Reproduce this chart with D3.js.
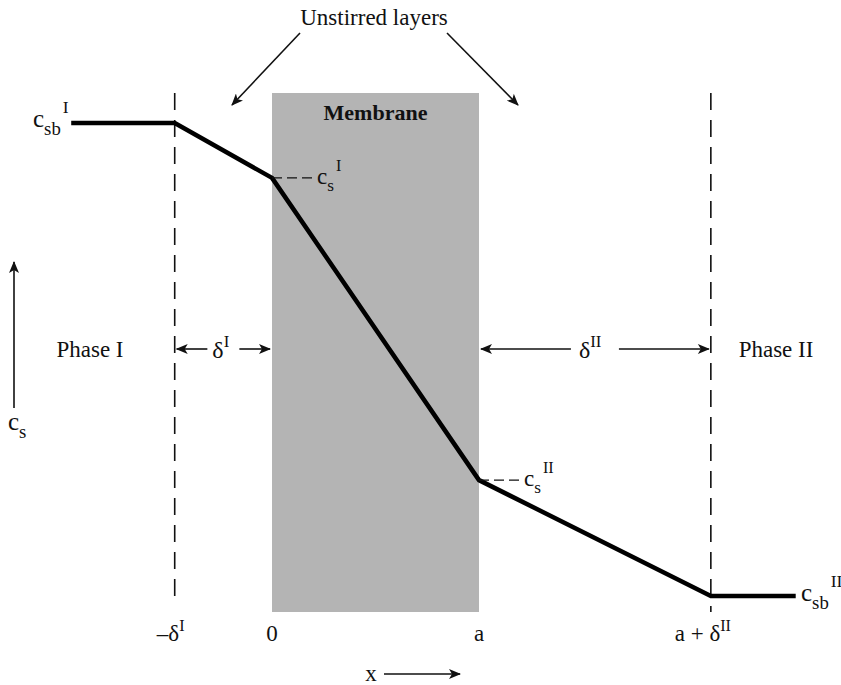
<!DOCTYPE html>
<html>
<head>
<meta charset="utf-8">
<script src="https://cdn.jsdelivr.net/npm/d3@7"></script>
<style>
  body { margin: 0; background: #fff; }
  text { font-family: "Liberation Serif", "Times New Roman", serif; fill: #111; }
</style>
</head>
<body>
<div id="chart"></div>
<script>
// positions along x, in units of membrane thickness a (0 = left face, 1 = right face)
const profileX = [-0.97, -0.47, 0, 1, 2.12, 2.53];
// solute concentration, scaled so c_sb^II = 0 and c_sb^I = 1
const profileC = [1, 1, 0.884, 0.245, 0, 0];

const boundaryX = [-0.47, 2.12];          // outer edges of the unstirred layers
const membraneX = [0, 1];
const tickX = [-0.47, 0, 1, 2.12];
const tickLabels = [["–δ", "I"], ["0", ""], ["a", ""], ["a + δ", "II"]];

const width = 841, height = 685;
const svg = d3.select("#chart").append("svg")
  .attr("width", width).attr("height", height);

const x = d3.scaleLinear().domain([0, 1]).range([272, 479]);
const y = d3.scaleLinear().domain([0, 1]).range([596, 123]);

const boxTop = 93, boxBottom = 612;

// arrow marker
const defs = svg.append("defs");
defs.append("marker")
  .attr("id", "arr")
  .attr("viewBox", "0 0 12 10")
  .attr("refX", 11).attr("refY", 5)
  .attr("markerWidth", 13).attr("markerHeight", 10)
  .attr("markerUnits", "userSpaceOnUse")
  .attr("orient", "auto-start-reverse")
  .append("path")
  .attr("d", "M0,0 L12,5 L0,10 L3,5 Z")
  .attr("fill", "#111");

// membrane
svg.append("rect")
  .attr("x", x(membraneX[0])).attr("y", boxTop)
  .attr("width", x(membraneX[1]) - x(membraneX[0]))
  .attr("height", boxBottom - boxTop)
  .attr("fill", "#b4b4b4");

svg.append("text")
  .attr("x", x(0.5)).attr("y", 120)
  .attr("text-anchor", "middle")
  .attr("font-size", 22).attr("font-weight", "bold")
  .text("Membrane");

// dashed boundaries of unstirred layers
svg.selectAll(".bound")
  .data(boundaryX)
  .enter().append("line")
  .attr("class", "bound")
  .attr("x1", d => x(d)).attr("x2", d => x(d))
  .attr("y1", boxTop).attr("y2", (d, i) => i === 0 ? 600 : 612)
  .attr("stroke", "#111").attr("stroke-width", 1.6)
  .attr("stroke-dasharray", "17,10");

// concentration profile
const line = d3.line().x(d => x(d[0])).y(d => y(d[1]));
svg.append("path")
  .datum(d3.zip(profileX, profileC))
  .attr("d", line)
  .attr("fill", "none")
  .attr("stroke", "#000")
  .attr("stroke-width", 4.5)
  .attr("stroke-linejoin", "round");

// helper for label with sub and sup
function label(px, py, base, sub, sup, size, anchor) {
  const t = svg.append("text")
    .attr("x", px).attr("y", py)
    .attr("font-size", size)
    .attr("text-anchor", anchor || "start");
  t.append("tspan").text(base);
  if (sub) t.append("tspan").attr("font-size", size * 0.75).attr("dy", size * 0.3).text(sub);
  if (sup) {
    t.append("tspan").attr("font-size", size * 0.7)
      .attr("dx", sub ? 2 : 0)
      .attr("dy", sub ? -size * 0.85 : -size * 0.45).text(sup);
  }
  return t;
}

// c_sb labels
label(33, 127, "c", "sb", "I", 25);
label(801, 601, "c", "sb", "II", 25);

// interface concentrations with dashed leaders
const faces = [[0, profileC[2], "I"], [1, profileC[3], "II"]];
faces.forEach(f => {
  svg.append("line")
    .attr("x1", x(f[0])).attr("x2", x(f[0]) + 44)
    .attr("y1", y(f[1])).attr("y2", y(f[1]))
    .attr("stroke", "#111").attr("stroke-width", 1.4)
    .attr("stroke-dasharray", "10,5");
  label(x(f[0]) + 45, y(f[1]) + 6, "c", "s", f[2], 23);
});

// Unstirred layers
svg.append("text")
  .attr("x", 374).attr("y", 25)
  .attr("text-anchor", "middle").attr("font-size", 23)
  .text("Unstirred layers");
svg.append("line")
  .attr("x1", 300).attr("y1", 33).attr("x2", 232).attr("y2", 105)
  .attr("stroke", "#111").attr("stroke-width", 1.6).attr("marker-end", "url(#arr)");
svg.append("line")
  .attr("x1", 447).attr("y1", 33).attr("x2", 518).attr("y2", 105)
  .attr("stroke", "#111").attr("stroke-width", 1.6).attr("marker-end", "url(#arr)");

// phase labels
svg.append("text").attr("x", 90).attr("y", 357)
  .attr("text-anchor", "middle").attr("font-size", 23).text("Phase I");
svg.append("text").attr("x", 776).attr("y", 357)
  .attr("text-anchor", "middle").attr("font-size", 23).text("Phase II");

// thickness arrows
const spans = [[boundaryX[0], 0, "I"], [1, boundaryX[1], "II"]];
spans.forEach(s => {
  const x0 = x(s[0]) + 2, x1 = x(s[1]) - 2, xm = (x0 + x1) / 2;
  const gap = s[2] === "I" ? 16 : 24;
  svg.append("line")
    .attr("x1", xm - gap).attr("x2", x0).attr("y1", 349).attr("y2", 349)
    .attr("stroke", "#111").attr("stroke-width", 1.6).attr("marker-end", "url(#arr)");
  svg.append("line")
    .attr("x1", xm + gap).attr("x2", x1).attr("y1", 349).attr("y2", 349)
    .attr("stroke", "#111").attr("stroke-width", 1.6).attr("marker-end", "url(#arr)");
  label(xm - (s[2] === "I" ? 11 : 16), 358, "δ", "", s[2], 24);
});

// x tick labels
tickX.forEach((v, i) => {
  const t = tickLabels[i];
  const shift = t[1] ? (t[1].length * 4) : 0;
  label(x(v) - shift, 641, t[0], "", t[1], 23, "middle");
});

// x axis arrow
svg.append("text").attr("x", 371).attr("y", 681)
  .attr("text-anchor", "middle").attr("font-size", 23).text("x");
svg.append("line")
  .attr("x1", 384).attr("x2", 460).attr("y1", 674).attr("y2", 674)
  .attr("stroke", "#111").attr("stroke-width", 1.6).attr("marker-end", "url(#arr)");

// c_s axis arrow
svg.append("line")
  .attr("x1", 14).attr("x2", 14).attr("y1", 408).attr("y2", 262)
  .attr("stroke", "#111").attr("stroke-width", 1.6).attr("marker-end", "url(#arr)");
label(8, 430, "c", "s", "", 25);
</script>
</body>
</html>
